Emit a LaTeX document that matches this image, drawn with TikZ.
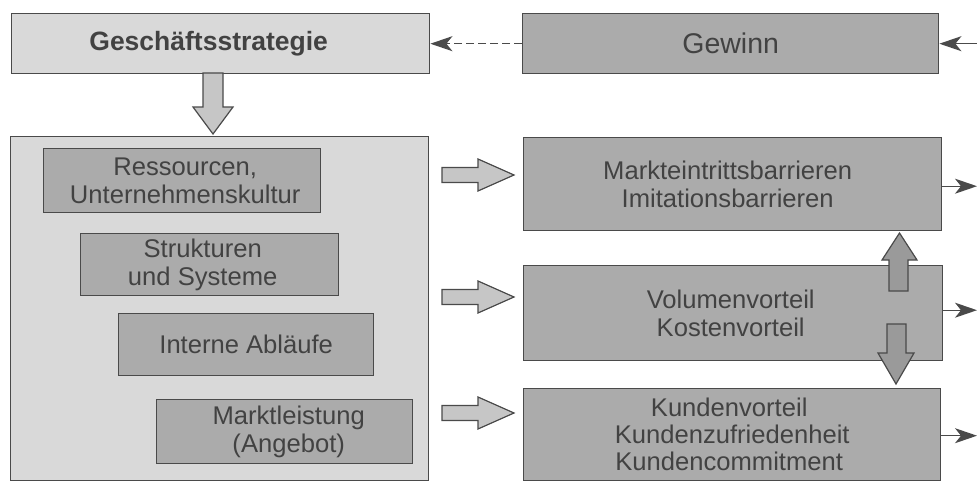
\documentclass[tikz,border=0pt]{standalone}
\usepackage{fontspec}
\setmainfont{Liberation Sans}
\usetikzlibrary{arrows.meta,calc}
\definecolor{lightfill}{HTML}{D9D9D9}
\definecolor{darkfill}{HTML}{ABABAB}
\definecolor{edgecol}{HTML}{4A4A4A}
\definecolor{txtcol}{HTML}{424242}
\definecolor{arrowfill}{HTML}{C6C6C6}
\begin{document}
\begin{tikzpicture}[x=1pt,y=-1pt,
  basebox/.style={draw=edgecol,line width=1.4pt,inner sep=0pt,anchor=north west,text=txtcol,align=center},
  lightbox/.style={basebox,fill=lightfill},
  darkbox/.style={basebox,fill=darkfill,font=\fontsize{25.6}{27.8}\selectfont},
  blockarrow/.style={draw=edgecol,line width=1.2pt,fill=arrowfill,line join=miter},
  blockarrowdark/.style={draw=edgecol,line width=1.2pt,fill=darkfill!90!black,line join=miter},
  thinarrow/.style={draw=edgecol,line width=1.4pt,-{Stealth[length=22pt,width=15pt,inset=6pt]}},
  dasharrow/.style={thinarrow,dash pattern=on 8pt off 4pt}]
\useasboundingbox (0,0) rectangle (977,482);
\fill[white] (0,0) rectangle (977,482);
\coordinate (redge) at (977,0);

% top row
\node[lightbox,minimum width=418pt,minimum height=60pt,font=\fontsize{26.5}{28}\selectfont\bfseries] (gs) at (11,13) {Geschäftsstrategie\hspace*{24pt}};
\node[darkbox,minimum width=416pt,minimum height=60pt,font=\fontsize{28.5}{30}\selectfont] (gew) at (522,13) {Gewinn};

% big left container
\node[lightbox,minimum width=418pt,minimum height=344pt] (big) at (10,136) {};

% inner boxes
\node[darkbox,minimum width=277pt,minimum height=64pt] (res) at (43,148) {\hspace*{6pt}Ressourcen,\\\hspace*{6pt}Unternehmenskultur};
\node[darkbox,minimum width=258pt,minimum height=62pt] (str) at (80,233) {Strukturen\hspace*{14pt}\\und Systeme\hspace*{14pt}};
\node[darkbox,minimum width=255pt,minimum height=62pt] (abl) at (118,313) {Interne Abläufe};
\node[darkbox,minimum width=256pt,minimum height=64pt] (mkt) at (156,399) {\hspace*{8pt}Marktleistung\\\hspace*{8pt}(Angebot)};

% right boxes
\node[darkbox,minimum width=418pt,minimum height=93pt] (bar) at (523,137) {Markteintrittsbarrieren\hspace*{10pt}\\Imitationsbarrieren\hspace*{10pt}};
\node[darkbox,minimum width=419pt,minimum height=95pt] (vol) at (523,265) {Volumenvorteil\hspace*{5pt}\\Kostenvorteil\hspace*{5pt}};
\node[darkbox,minimum width=417pt,minimum height=92pt,font=\fontsize{25.6}{27}\selectfont] (kun) at (523,388) {Kundenvorteil\hspace*{6pt}\\Kundenzufriedenheit\hspace*{6pt}\\Kundencommitment\hspace*{6pt}};

% block arrow strategy -> container
\draw[blockarrow] (203,73) -- (223,73) -- (223,107) -- (233,107) -- (213,134) -- (193,107) -- (203,107) -- cycle;

% block arrows left -> right
\foreach \c in {175,297,413}{
  \draw[blockarrow] (442,\c-7.5) -- (478,\c-7.5) -- (478,\c-16) -- (514,\c) -- (478,\c+16) -- (478,\c+7.5) -- (442,\c+7.5) -- cycle;
}

% up and down block arrows on the right
\draw[blockarrowdark] (889,291) -- (908,291) -- (908,260) -- (917,260) -- (899.5,233) -- (882,260) -- (889,260) -- cycle;
\draw[blockarrowdark] (887,324) -- (906,324) -- (906,353) -- (914,353) -- (896,384) -- (878,353) -- (887,353) -- cycle;

% thin connectors
\draw[dasharrow] (gew.west) -- (gs.east);
\coordinate (gin) at (gew.east -| redge);
\draw[thinarrow] (gin) -- (gew.east);
\coordinate (o1) at ($(bar.east -| redge)+(0,2)$);
\coordinate (o2) at ($(vol.east -| redge)+(0,-3)$);
\coordinate (o3) at ($(kun.east -| redge)+(0,1)$);
\draw[thinarrow] (bar.east |- o1) -- (o1);
\draw[thinarrow] (vol.east |- o2) -- (o2);
\draw[thinarrow] (kun.east |- o3) -- (o3);
\end{tikzpicture}
\end{document}
